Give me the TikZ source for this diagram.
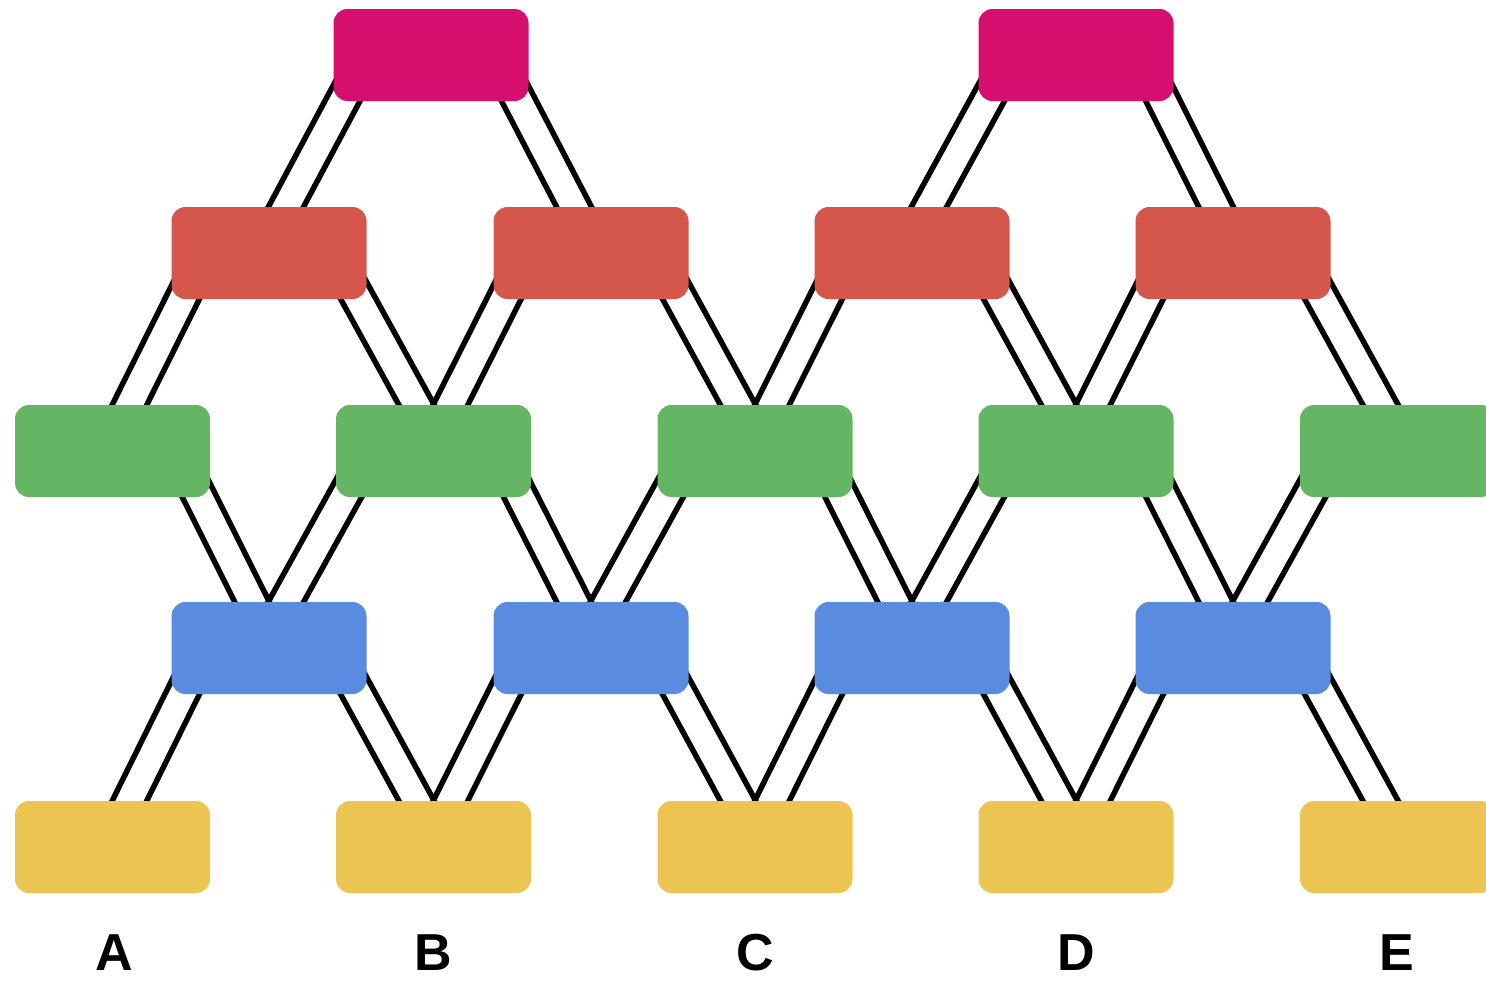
\documentclass[tikz,border=0pt]{standalone}
\usepackage{fontspec}
\setmainfont{Liberation Sans}
\usetikzlibrary{calc,backgrounds}
\definecolor{cpink}{HTML}{D60E6E}
\definecolor{cred}{HTML}{D5564A}
\definecolor{cgreen}{HTML}{64B664}
\definecolor{cblue}{HTML}{598CE0}
\definecolor{cyellow}{HTML}{ECC452}
\tikzset{
  box/.style={rounded corners=14pt, minimum width=195pt, minimum height=92pt, inner sep=0pt, draw=none},
  link/.style={draw=black, line width=5.5pt},
  lab/.style={font=\fontsize{52}{52}\selectfont\bfseries, inner sep=0pt, text=black}
}
\newcommand\linkpair[2]{%
  \draw[link] ($(#1)!15.5pt!90:(#2)$) -- ($(#2)!15.5pt!-90:(#1)$);
  \draw[link] ($(#1)!15.5pt!-90:(#2)$) -- ($(#2)!15.5pt!90:(#1)$);
}
% down-left connector from upper node #1 to lower node #2
\newcommand\dlink[2]{%
  \coordinate (s) at ($(#1.center)+(-64,0)$);
  \coordinate (e0) at ($(#2.north)+(17,0)$);
  \coordinate (e) at ($(s)!1.2!(e0)$);
  \linkpair{s}{e}%
}
% down-right connector
\newcommand\drlink[2]{%
  \coordinate (s) at ($(#1.center)+(64,0)$);
  \coordinate (e0) at ($(#2.north)+(-17,0)$);
  \coordinate (e) at ($(s)!1.2!(e0)$);
  \linkpair{s}{e}%
}
\begin{document}
\begin{tikzpicture}[x=1pt,y=-1pt]
\useasboundingbox (0,0) rectangle (1486,980);
\clip (0,0) rectangle (1486,980);
% boxes
\node[box, fill=cpink] (p1) at (431,55) {};
\node[box, fill=cpink] (p2) at (1076,55) {};
\foreach \i/\x in {1/269,2/591,3/912,4/1233} {
  \node[box, fill=cred] (r\i) at (\x,253) {};
  \node[box, fill=cblue] (b\i) at (\x,648) {};
}
\foreach \i/\x in {1/112.5,2/433.5,3/755,4/1076,5/1397.5} {
  \node[box, fill=cgreen] (g\i) at (\x,451) {};
  \node[box, fill=cyellow] (y\i) at (\x,847) {};
}
% labels
\node[lab] (lA) at (114,953) {A};
\node[lab] (lB) at (433,953) {B};
\node[lab] (lC) at (755,953) {C};
\node[lab] (lD) at (1076,953) {D};
\node[lab] (lE) at (1397,953) {E};
% connectors
\begin{scope}[on background layer]
  \dlink{p1}{r1} \drlink{p1}{r2}
  \dlink{p2}{r3} \drlink{p2}{r4}
  \foreach \i [evaluate=\i as \j using int(\i+1)] in {1,2,3,4} {
    \dlink{r\i}{g\i} \drlink{r\i}{g\j}
    \drlink{g\i}{b\i} \dlink{g\j}{b\i}
    \dlink{b\i}{y\i} \drlink{b\i}{y\j}
  }
\end{scope}
\end{tikzpicture}
\end{document}
